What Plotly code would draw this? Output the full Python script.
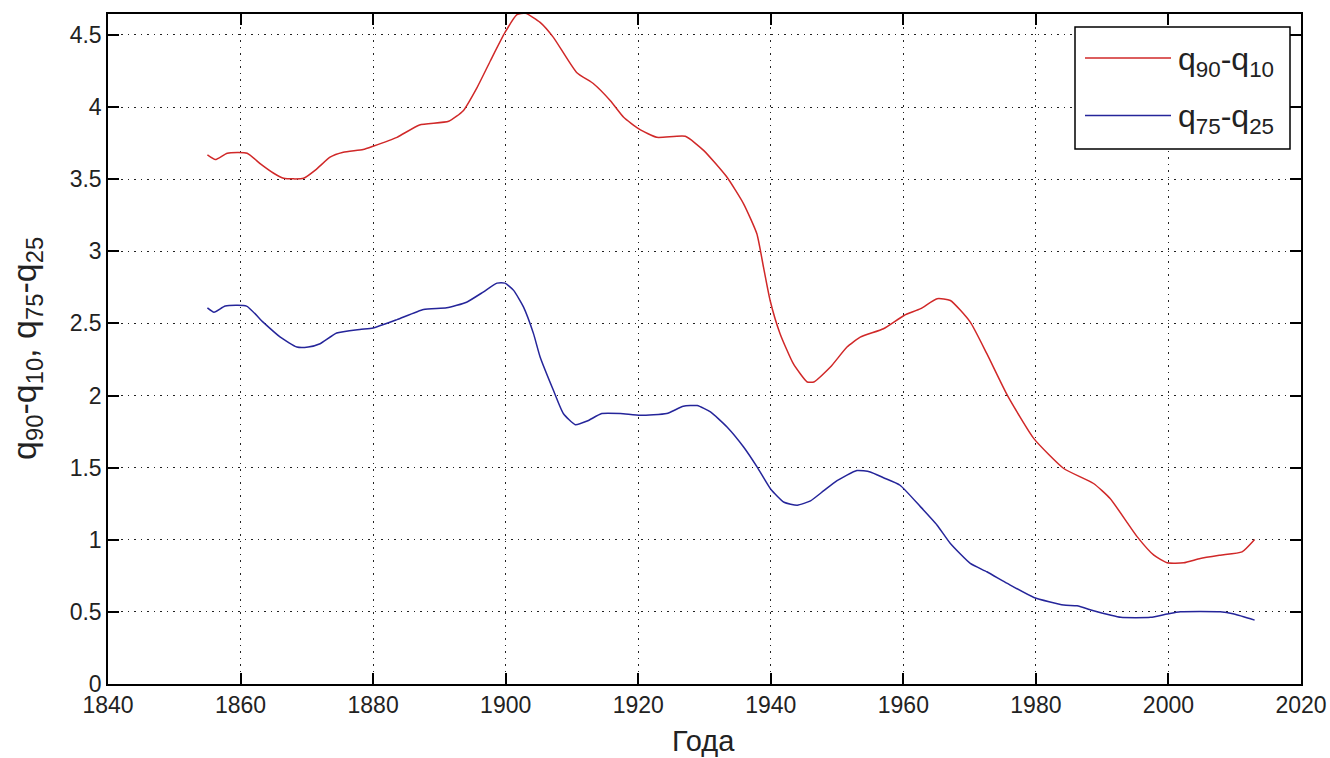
import plotly.graph_objects as go

# ---- data ----
years_q90_q10 = [1855, 1856.2, 1858, 1861, 1863, 1865, 1866.5, 1869.5, 1871.5, 1873.5, 1875.5,
                 1878.5, 1880, 1883.6, 1887, 1891.4, 1893.6, 1895.7, 1897.7, 1899.9, 1901.7,
                 1903, 1905.2, 1907.2, 1910.7, 1913.3, 1915.8, 1917.8, 1920.1, 1922.8, 1927.1,
                 1929.9, 1933.4, 1935.9, 1937.9, 1938.9, 1939.9, 1941.4, 1943.4, 1945.5, 1946.5,
                 1949, 1951.5, 1953.5, 1957, 1960.1, 1962.6, 1965.1, 1967.1, 1970.1, 1972.6,
                 1975.7, 1979.7, 1984.2, 1988.7, 1991.2, 1995.3, 1997.8, 1999.8, 2002.3, 2004.8,
                 2007.8, 2011.1, 2013]
q90_q10 = [3.668, 3.636, 3.68, 3.68, 3.606, 3.541, 3.506, 3.506, 3.571, 3.652, 3.686,
           3.705, 3.728, 3.79, 3.876, 3.901, 3.975, 4.137, 4.321, 4.517, 4.64,
           4.65, 4.587, 4.483, 4.24, 4.16, 4.044, 3.929, 3.848, 3.79, 3.797,
           3.698, 3.513, 3.329, 3.121, 2.89, 2.659, 2.429, 2.221, 2.094, 2.094,
           2.197, 2.336, 2.405, 2.463, 2.555, 2.602, 2.671, 2.659, 2.509, 2.29,
           2.001, 1.701, 1.494, 1.39, 1.286, 1.02, 0.893, 0.84, 0.84, 0.87,
           0.893, 0.916, 1.002]

years_q75_q25 = [1855, 1856, 1857.7, 1860.9, 1863.4, 1866, 1868.5, 1870.2, 1872, 1874.5, 1878,
                 1880, 1883.6, 1887.6, 1891.1, 1894.1, 1896.6, 1898.7, 1899.9, 1901.2, 1902.7,
                 1904.2, 1905.2, 1907.2, 1908.7, 1910.5, 1912.3, 1914.5, 1917.3, 1920.3, 1924.3,
                 1926.8, 1928.9, 1930.9, 1933.4, 1935.9, 1938, 1940, 1942, 1944, 1946, 1948,
                 1950, 1953, 1955, 1957, 1959.5, 1962.6, 1965.1, 1967.1, 1970.1, 1972.6, 1975.7,
                 1979.7, 1984.2, 1986.2, 1988.7, 1991.2, 1992.8, 1997.3, 1999.8, 2001.8, 2007.8,
                 2009.9, 2013]
q75_q25 = [2.608, 2.578, 2.62, 2.62, 2.509, 2.405, 2.336, 2.336, 2.359, 2.433, 2.458,
           2.468, 2.526, 2.597, 2.608, 2.647, 2.717, 2.779, 2.779, 2.729, 2.613,
           2.429, 2.267, 2.036, 1.875, 1.798, 1.823, 1.875, 1.875, 1.863, 1.875,
           1.925, 1.93, 1.886, 1.782, 1.643, 1.50, 1.35, 1.26, 1.24, 1.27, 1.34,
           1.41, 1.48, 1.47, 1.43, 1.378, 1.228, 1.101, 0.974, 0.836, 0.778, 0.697,
           0.6, 0.547, 0.542, 0.508, 0.478, 0.462, 0.462, 0.485, 0.501, 0.501,
           0.485, 0.443]

series_names = ["q<sub>90</sub>-q<sub>10</sub>", "q<sub>75</sub>-q<sub>25</sub>"]
series_colors = ["#d02828", "#25259a"]
x_ticks = [1840, 1860, 1880, 1900, 1920, 1940, 1960, 1980, 2000, 2020]
y_ticks = [0, 0.5, 1, 1.5, 2, 2.5, 3, 3.5, 4, 4.5]
y_tick_text = ["0", "0.5", "1", "1.5", "2", "2.5", "3", "3.5", "4", "4.5"]

FONT = "Liberation Sans, Arial, sans-serif"

fig = go.Figure()
for xs, ys, name, col in [(years_q90_q10, q90_q10, series_names[0], series_colors[0]),
                          (years_q75_q25, q75_q25, series_names[1], series_colors[1])]:
    fig.add_trace(go.Scatter(x=xs, y=ys, mode="lines", name=name,
                             line=dict(color=col, width=1.5, shape="spline", smoothing=0.5),
                             showlegend=False))

W, H = 1330, 758
ml, mr, mt, mb = 108, 29, 14, 74
pw, ph = W - ml - mr, H - mt - mb

def px2paper(px, py):
    return (px - ml) / pw, (H - mb - py) / ph

axis_common = dict(
    showline=True, linecolor="black", linewidth=1.5, mirror="ticks",
    ticks="inside", ticklen=11, tickwidth=1.5, tickcolor="black",
    showgrid=True, gridcolor="#222222", gridwidth=1.2, griddash="1.5px,5px",
    zeroline=False, tickfont=dict(family=FONT, size=23, color="#222222"),
)

fig.update_layout(
    width=W, height=H,
    margin=dict(l=ml, r=mr, t=mt, b=mb, autoexpand=False),
    paper_bgcolor="white", plot_bgcolor="white",
    xaxis=dict(range=[1840, 2020], tickvals=x_ticks, **axis_common),
    yaxis=dict(range=[0, 4.645], tickvals=y_ticks, ticktext=y_tick_text, **axis_common),
    font=dict(family=FONT, color="#222222"),
)

# axis titles
fig.add_annotation(text="Года", xref="paper", yref="paper",
                   x=px2paper(703, 0)[0], y=px2paper(0, 741)[1],
                   showarrow=False, xanchor="center", yanchor="middle",
                   font=dict(family=FONT, size=29, color="#222222"))
fig.add_annotation(text="q<sub>90</sub>-q<sub>10</sub>, q<sub>75</sub>-q<sub>25</sub>",
                   xref="paper", yref="paper",
                   x=px2paper(26, 0)[0], y=px2paper(0, 349)[1],
                   showarrow=False, xanchor="center", yanchor="middle", textangle=-90,
                   font=dict(family=FONT, size=34, color="#222222"))

# legend box
x0, y0 = px2paper(1075, 149)
x1, y1 = px2paper(1290, 27)
fig.add_shape(type="rect", xref="paper", yref="paper", x0=x0, y0=y0, x1=x1, y1=y1,
              line=dict(color="black", width=1.5), fillcolor="white", layer="above")
for i, (name, col) in enumerate(zip(series_names, series_colors)):
    py = 58 + i * 57.5
    lx0, ly = px2paper(1085, py)
    lx1, _ = px2paper(1171, py)
    fig.add_shape(type="line", xref="paper", yref="paper", x0=lx0, x1=lx1, y0=ly, y1=ly,
                  line=dict(color=col, width=1.5), layer="above")
    tx, _ = px2paper(1176, py + 2)
    fig.add_annotation(text=name, xref="paper", yref="paper", x=tx, y=px2paper(0, py + 3)[1],
                       showarrow=False, xanchor="left", yanchor="middle",
                       font=dict(family=FONT, size=32, color="#222222"))

fig.write_html("out.html")
